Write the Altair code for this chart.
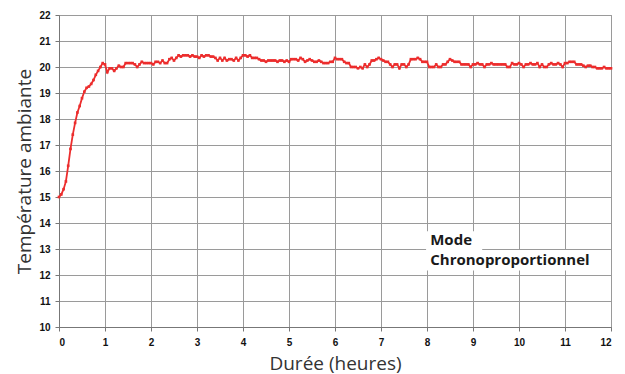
import altair as alt
import pandas as pd

# Temperature readings every 0.05 h (3 min), 0 h .. 12 h
temps = [
    # hour 0
    15.0, 15.1, 15.3, 15.6, 16.2, 16.85, 17.4, 17.85, 18.25, 18.5,
    18.8, 19.05, 19.2, 19.25, 19.35, 19.5, 19.7, 19.85, 20.0, 20.15,
    # hour 1
    20.1, 19.8, 19.95, 19.95, 19.85, 19.95, 20.05, 20.0, 20.0, 20.15,
    20.15, 20.15, 20.15, 20.1, 20.0, 20.1, 20.2, 20.15, 20.15, 20.15,
    # hour 2
    20.15, 20.1, 20.2, 20.2, 20.15, 20.25, 20.15, 20.15, 20.3, 20.35,
    20.25, 20.35, 20.45, 20.4, 20.45, 20.45, 20.45, 20.4, 20.45, 20.4,
    # hour 3
    20.4, 20.35, 20.45, 20.4, 20.45, 20.45, 20.4, 20.4, 20.35, 20.25,
    20.35, 20.25, 20.35, 20.25, 20.3, 20.3, 20.25, 20.35, 20.25, 20.35,
    # hour 4
    20.45, 20.45, 20.4, 20.45, 20.35, 20.35, 20.35, 20.3, 20.25, 20.25,
    20.2, 20.25, 20.25, 20.25, 20.25, 20.2, 20.25, 20.25, 20.2, 20.25,
    # hour 5
    20.2, 20.3, 20.3, 20.3, 20.25, 20.35, 20.3, 20.2, 20.25, 20.3,
    20.25, 20.2, 20.2, 20.25, 20.2, 20.15, 20.15, 20.15, 20.2, 20.2,
    # hour 6
    20.35, 20.3, 20.3, 20.3, 20.2, 20.15, 20.15, 20.0, 20.0, 20.0,
    19.95, 20.0, 19.95, 20.1, 20.0, 20.1, 20.25, 20.25, 20.3, 20.35,
    # hour 7
    20.3, 20.25, 20.2, 20.2, 20.1, 20.0, 20.1, 20.1, 19.95, 20.1,
    20.1, 20.0, 20.1, 20.3, 20.3, 20.3, 20.35, 20.3, 20.2, 20.2,
    # hour 8
    20.2, 20.0, 20.0, 20.0, 20.1, 20.0, 20.0, 20.1, 20.1, 20.2,
    20.3, 20.25, 20.2, 20.2, 20.2, 20.1, 20.1, 20.1, 20.1, 20.0,
    # hour 9
    20.1, 20.1, 20.15, 20.1, 20.1, 20.0, 20.1, 20.1, 20.15, 20.1,
    20.1, 20.1, 20.1, 20.1, 20.1, 20.0, 20.0, 20.15, 20.1, 20.1,
    # hour 10
    20.15, 20.1, 20.0, 20.1, 20.1, 20.15, 20.1, 20.1, 20.15, 20.0,
    20.1, 20.0, 20.0, 20.1, 20.15, 20.1, 20.1, 20.15, 20.1, 20.0,
    # hour 11
    20.15, 20.15, 20.2, 20.2, 20.2, 20.1, 20.1, 20.1, 20.05, 20.0,
    20.05, 20.05, 20.0, 20.0, 19.95, 19.95, 19.95, 20.0, 19.95, 19.95,
    # hour 12
    19.95,
]
hours = [round(i * 0.05, 2) for i in range(len(temps))]

x_ticks = list(range(0, 13))
y_ticks = list(range(10, 23))

# annotation
note_lines = ["Mode", "Chronoproportionnel"]
note_x = [8.07, 8.07]
note_y = [13.34, 12.56]
box_x = [7.98, 7.98]
box_x2 = [9.2, 11.6]
box_y = [13.68, 12.96]
box_y2 = [12.96, 12.17]

df = pd.DataFrame({"h": hours, "t": temps})
notes = pd.DataFrame({"label": note_lines, "x": note_x, "y": note_y})
boxes = pd.DataFrame({"x": box_x, "x2": box_x2, "y": box_y, "y2": box_y2})

xscale = alt.Scale(domain=[0, 12], nice=False, zero=False)
yscale = alt.Scale(domain=[10, 22], nice=False, zero=False)

common = dict(
    format="d", labelFont="Liberation Sans", labelFontWeight="bold",
    labelFontSize=10, labelColor="#111", labelOverlap=False,
    tickSize=4, tickColor="#777",
    titleFont="Open Sans", titleFontSize=19, titleFontWeight="normal",
    titleColor="#333", gridColor="#9a9a9a", gridWidth=1, domainColor="#777",
)
xaxis = alt.Axis(values=x_ticks, title="Durée (heures)", labelPadding=6,
                 titlePadding=7, **common)
yaxis = alt.Axis(values=y_ticks, title="Température ambiante", labelPadding=5,
                 titlePadding=4, **common)

box = alt.Chart(boxes).mark_rect(color="white").encode(
    x=alt.X("x:Q", scale=xscale, axis=xaxis), x2="x2:Q",
    y=alt.Y("y:Q", scale=yscale, axis=yaxis), y2="y2:Q",
)

text = alt.Chart(notes).mark_text(
    align="left", baseline="middle", font="Open Sans", fontWeight="bold",
    fontSize=15, color="#1a1a1a",
).encode(
    x=alt.X("x:Q", scale=xscale, axis=xaxis),
    y=alt.Y("y:Q", scale=yscale, axis=yaxis),
    text="label:N",
)

line = alt.Chart(df).mark_line(
    color="#ec2d2d", strokeWidth=1.8,
    point=alt.OverlayMarkDef(shape="square", size=7, color="#ec2d2d", filled=True),
).encode(
    x=alt.X("h:Q", scale=xscale, axis=xaxis),
    y=alt.Y("t:Q", scale=yscale, axis=yaxis),
)

chart = alt.layer(box, text, line).properties(
    width=552, height=312,
    autosize=alt.AutoSizeParams(type="none"),
    padding={"left": 51, "top": 7, "right": 6, "bottom": 48},
).configure_view(stroke="#888", strokeWidth=1)

chart.save("out.html", embed_options={"renderer": "svg", "actions": False})
